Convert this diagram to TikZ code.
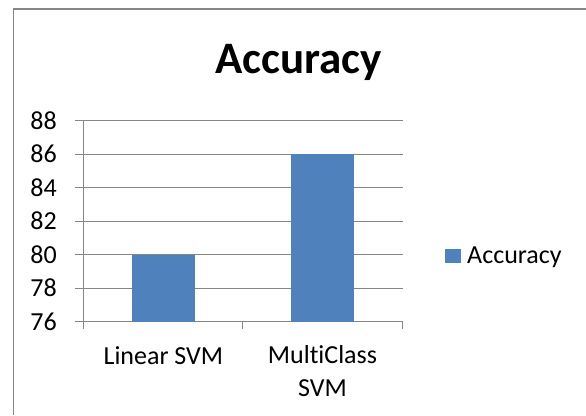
\documentclass[tikz,border=0pt]{standalone}
\usepackage{fontspec}
\setmainfont[Ligatures=NoCommon]{Carlito}
\usetikzlibrary{positioning}
\definecolor{barblue}{HTML}{4F81BD}
\definecolor{gridgrey}{HTML}{868686}

\begin{document}
\begin{tikzpicture}[x=1bp, y=1bp,
    grid/.style={draw=gridgrey, line width=1bp},
    lbl/.style={font=\fontsize{26bp}{33bp}\selectfont, inner sep=0pt},
    bar/.style={fill=barblue}]
  \useasboundingbox (0,0) rectangle (586,415);
  % frame
  \draw[gridgrey, line width=1.5bp] (13.5,0) |- (586,406);
  % title
  \node[font=\fontsize{45bp}{50bp}\selectfont\bfseries, anchor=base, inner sep=0pt] (title) at (298.5,342) {Accuracy};
  \begin{scope}[shift={(83,93.5)}, y=16.73bp]
    % gridlines and values
    \foreach \v in {76,78,...,88} {
      \draw[grid] (-8,\v-76) -- (319.7,\v-76);
      \node[lbl, anchor=east] (y\v) at (-26,\v-76) {\v};
    }
    \draw[grid] (0,0) -- (0,12);
    \foreach \x in {0,159.85,319.7}
      \draw[grid] (\x,0) -- (\x,-0.45);
    % bars
    \fill[bar] (48.7,0) rectangle (112,4);
    \fill[bar] (208,0) rectangle (271,10);
  \end{scope}
  % categories
  \node[lbl, anchor=base] (linear) at (163.4,51) {Linear SVM};
  \node[lbl, anchor=base, align=center] (multi) at (322.5,18.3) {MultiClass\\SVM};
  % legend
  \node[bar, inner sep=0pt, minimum width=16bp, minimum height=14bp] (key) at (453,159) {};
  \node[lbl, anchor=base west] (keytext) at (467,151.7) {Accuracy};
\end{tikzpicture}
\end{document}
